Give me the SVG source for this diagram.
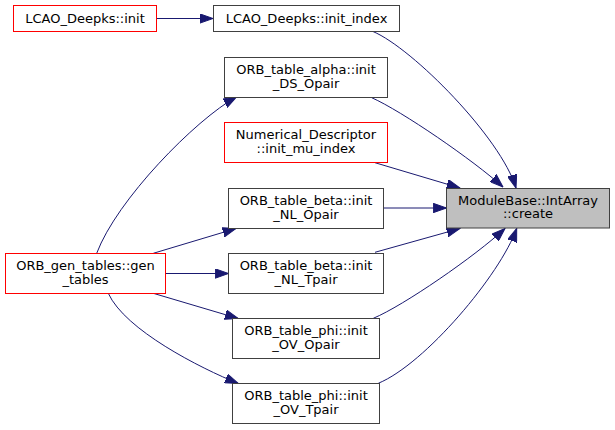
<svg xmlns="http://www.w3.org/2000/svg" width="615" height="430" viewBox="0 0 615 430">
<defs>
<marker id="arr" markerUnits="userSpaceOnUse" markerWidth="14" markerHeight="10" viewBox="0 -5 14 10" refX="13.3" refY="0" orient="auto">
<path d="M0,-4.7 L13.3,0 L0,4.7 z" fill="#191970" stroke="#191970" stroke-width="1"/>
</marker>
</defs>
<style>
.n rect{fill:#ffffff;stroke:#404040;stroke-width:1}
.n.red rect{stroke:#ff0000}
.n.hl rect{fill:#bfbfbf}
.n text{font-family:"DejaVu Sans",sans-serif;font-size:13px;fill:#000000;text-anchor:middle}
#edges path{fill:none;stroke:#191970;stroke-width:1;marker-end:url(#arr)}
</style>
<rect width="615" height="430" fill="#ffffff"/>
<g id="edges">
<path d="M156.5,18.5 L213,18.5"/>
<path d="M373,31.5 C413,48.5 501,138 516,188"/>
<path d="M371.7,97.7 C401.7,111 473,160 503,187"/>
<path d="M375,162.7 L460,188"/>
<path d="M383.5,208 L446.5,208"/>
<path d="M375,252.3 L460,228.5"/>
<path d="M373.3,318.3 C403.3,305.8 475,256.3 505,228.5"/>
<path d="M378.3,383.3 C425,364 500,275 516.7,228.5"/>
<path d="M96.7,253.3 C116.7,200 195,120 236.7,96.7"/>
<path d="M153.3,253.3 L236,228.5"/>
<path d="M165.5,273.5 L228.5,273.5"/>
<path d="M153.3,293.3 L238.3,318.5"/>
<path d="M108.3,293.3 C125,330 200,368 238.3,383.5"/>
</g>
<g id="n_lcao_init" class="n red"><rect x="13.5" y="5.5" width="143" height="26"/><text x="85" y="23">LCAO_Deepks::init</text></g>
<g id="n_lcao_init_index" class="n"><rect x="213.5" y="5.5" width="186" height="26"/><text x="306.5" y="23">LCAO_Deepks::init_index</text></g>
<g id="n_alpha_ds" class="n"><rect x="224.5" y="57.5" width="163" height="40"/><text x="306" y="73.5">ORB_table_alpha::init</text><text x="306" y="87.5">_DS_Opair</text></g>
<g id="n_numdesc" class="n red"><rect x="224.5" y="122.5" width="163" height="40"/><text x="306" y="138.5">Numerical_Descriptor</text><text x="306" y="152.5">::init_mu_index</text></g>
<g id="n_beta_nlo" class="n"><rect x="228.5" y="188.5" width="155" height="40"/><text x="306" y="204.5">ORB_table_beta::init</text><text x="306" y="218.5">_NL_Opair</text></g>
<g id="n_beta_nlt" class="n"><rect x="228.5" y="253.5" width="155" height="40"/><text x="306" y="269.5">ORB_table_beta::init</text><text x="306" y="283.5">_NL_Tpair</text></g>
<g id="n_phi_ovo" class="n"><rect x="232.5" y="318.5" width="147" height="40"/><text x="306" y="334.5">ORB_table_phi::init</text><text x="306" y="348.5">_OV_Opair</text></g>
<g id="n_phi_ovt" class="n"><rect x="232.5" y="383.5" width="147" height="40"/><text x="306" y="399.5">ORB_table_phi::init</text><text x="306" y="413.5">_OV_Tpair</text></g>
<g id="n_gen_tables" class="n red"><rect x="5.5" y="253.5" width="160" height="40"/><text x="85.5" y="269.5">ORB_gen_tables::gen</text><text x="85.5" y="283.5">_tables</text></g>
<g id="n_create" class="n hl"><rect x="446.5" y="188.5" width="163" height="39.5"/><text x="528" y="204.5">ModuleBase::IntArray</text><text x="528" y="218">::create</text></g>
</svg>
